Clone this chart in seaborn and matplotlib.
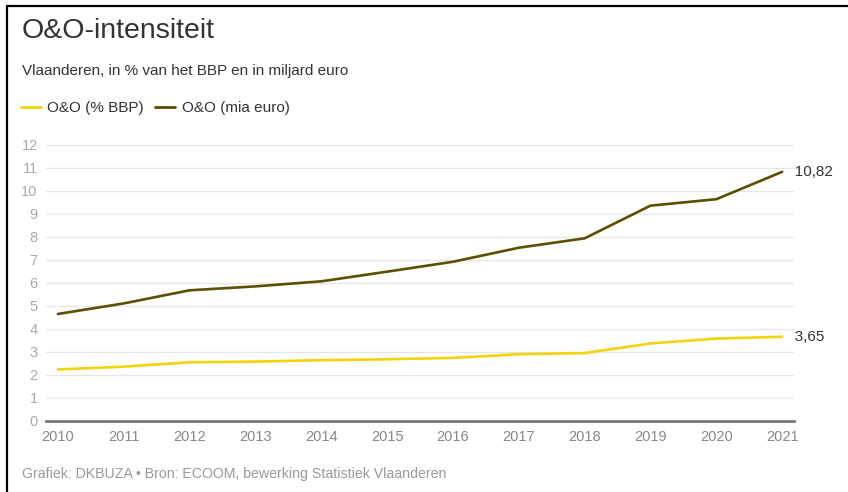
import numpy as np
import pandas as pd
import matplotlib
matplotlib.use("Agg")
import matplotlib.pyplot as plt
import seaborn as sns
from matplotlib.lines import Line2D

years = [2010, 2011, 2012, 2013, 2014, 2015, 2016, 2017, 2018, 2019, 2020, 2021]
pctBbp = [2.23, 2.35, 2.54, 2.57, 2.63, 2.67, 2.73, 2.89, 2.94, 3.36, 3.57, 3.65]
miaEuro = [4.64, 5.10, 5.67, 5.84, 6.06, 6.48, 6.91, 7.52, 7.93, 9.35, 9.63, 10.82]
seriesNames = ["O&O (% BBP)", "O&O (mia euro)"]
endLabels = ["3,65", "10,82"]
yTicks = list(range(0, 13))

colorYellow = "#f2d40a"
colorOlive = "#5b4f00"

sns.set_theme(style="white")
plt.rcParams["font.family"] = ["Liberation Sans", "DejaVu Sans"]

df = pd.DataFrame({
    "jaar": years * 2,
    "waarde": pctBbp + miaEuro,
    "reeks": [seriesNames[0]] * len(years) + [seriesNames[1]] * len(years),
})

fig = plt.figure(figsize=(8.48, 4.92), dpi=100, facecolor="white")
ax = fig.add_axes([46 / 848, 71.3 / 492, 748 / 848, 276 / 492])

sns.lineplot(
    data=df, x="jaar", y="waarde", hue="reeks",
    palette=[colorYellow, colorOlive], linewidth=1.9,
    legend=False, ax=ax,
)

ax.set_xlim(2009.818, 2021.18)
ax.set_ylim(0, 12)
ax.set_xticks(years)
ax.set_xticklabels([str(y) for y in years])
ax.set_yticks(yTicks)
ax.set_xlabel("")
ax.set_ylabel("")
ax.grid(axis="y", color="#e6e6e6", linewidth=1.0)
ax.set_axisbelow(True)
for side in ["top", "right", "left"]:
    ax.spines[side].set_visible(False)
ax.spines["bottom"].set_color("#777777")
ax.spines["bottom"].set_linewidth(2.0)
ax.tick_params(axis="y", length=0, pad=6, labelsize=10.5, labelcolor="#aaaaaa")
ax.tick_params(axis="x", length=0, pad=7, labelsize=10.5, labelcolor="#888888")

# waardelabels aan het einde
ax.text(years[-1], pctBbp[-1], "   " + endLabels[0], va="center", ha="left",
        fontsize=11, color="#333333", clip_on=False)
ax.text(years[-1], miaEuro[-1], "   " + endLabels[1], va="center", ha="left",
        fontsize=11, color="#333333", clip_on=False)

fig.text(22 / 848, 1 - 31 / 492, "O&O-intensiteit", fontsize=20.5,
         color="#333333", va="center", ha="left")
fig.text(22 / 848, 1 - 71 / 492, "Vlaanderen, in % van het BBP en in miljard euro",
         fontsize=11, color="#333333", va="center", ha="left")
fig.text(22 / 848, 1 - 474 / 492,
         "Grafiek: DKBUZA \u2022 Bron: ECOOM, bewerking Statistiek Vlaanderen",
         fontsize=10.2, color="#999999", va="center", ha="left")

handles = [Line2D([0], [0], color=colorYellow, linewidth=2),
           Line2D([0], [0], color=colorOlive, linewidth=2)]
fig.legend(handles, seriesNames, loc="center left",
           bbox_to_anchor=(7 / 848, 1 - 108 / 492), ncol=2, frameon=False,
           fontsize=11, handlelength=1.35, handletextpad=0.4, columnspacing=0.7,
           labelcolor="#333333")

# kaderlijnen links en boven
fig.add_artist(Line2D([7 / 848, 7 / 848], [0, 1 - 5.5 / 492],
                      transform=fig.transFigure, color="black", linewidth=1.6))
fig.add_artist(Line2D([7 / 848, 1], [1 - 5.5 / 492, 1 - 5.5 / 492],
                      transform=fig.transFigure, color="black", linewidth=1.6))

fig.savefig("out.png", dpi=100, facecolor="white")
